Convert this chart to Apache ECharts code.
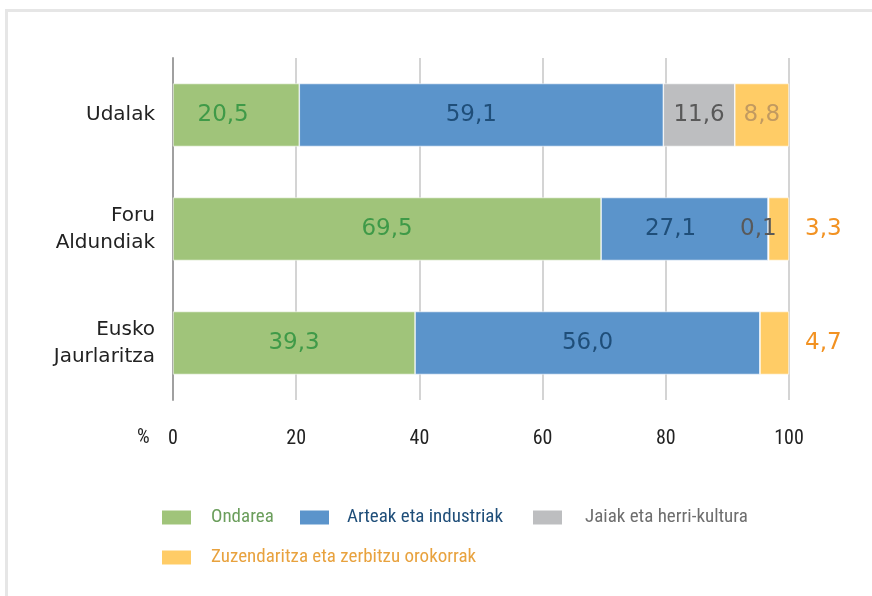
<!DOCTYPE html>
<html>
<head>
<meta charset="utf-8">
<script src="https://cdn.jsdelivr.net/npm/echarts@6/dist/echarts.min.js"></script>
<style>
    html, body { margin: 0; padding: 0; background: #fff; }
    #frame { position: absolute; left: 5px; top: 9px; width: 880px; height: 600px; border: 3px solid #e6e6e6; box-sizing: border-box; }
    #chart { position: absolute; left: 0; top: 0; width: 872px; height: 596px; }
</style>
</head>
<body>
<div id="frame"></div>
<div id="chart"></div>
<script>
const categories = ["Udalak", "Foru\nAldundiak", "Eusko\nJaurlaritza"];
const seriesNames = ["Ondarea", "Arteak eta industriak", "Jaiak eta herri-kultura", "Zuzendaritza eta zerbitzu orokorrak"];
const ondarea = [20.5, 69.5, 39.3];
const arteak = [59.1, 27.1, 56.0];
const jaiak = [11.6, 0.1, 0];
const zuzendaritza = [8.8, 3.3, 4.7];
const xTicks = [0, 20, 40, 60, 80, 100];

const barColors = ["#a0c47a", "#5b94cb", "#bdbec0", "#ffcc66"];
const labelColors = ["#3f9a48", "#1f4e79", "#595959", "#f29222"];
const legendColors = ["#6b9e5c", "#1f4e79", "#6e6e6e", "#e8a23e"];

const labelFont = "'DejaVu Sans', Verdana, sans-serif";
const narrowFont = "'Liberation Sans Narrow', 'Roboto Condensed', 'Liberation Sans', sans-serif";

function fmt(v) {
    return v.toFixed(1).replace(".", ",");
}

function makeSeries(idx, values, labelFor) {
    return {
        name: seriesNames[idx],
        type: "bar",
        stack: "total",
        barWidth: 63,
        itemStyle: { color: barColors[idx], borderColor: "#ffffff", borderWidth: 0.6 },
        emphasis: { disabled: true },
        data: values.map((v, i) => {
            const item = { value: v };
            const lab = labelFor ? labelFor(i, v) : {};
            item.label = Object.assign({
                show: v > 0,
                position: "inside",
                formatter: () => fmt(v),
                color: labelColors[idx],
                fontFamily: labelFont,
                fontSize: 23
            }, lab);
            return item;
        })
    };
}

const series = [
    makeSeries(0, ondarea, i => (i === 0 ? { offset: [-13, 0] } : {})),
    makeSeries(1, arteak, i => (i === 0 ? { offset: [-10, 0] } : i === 1 ? { offset: [-14, 0] } : {})),
    makeSeries(2, jaiak, i => (i === 1 ? { offset: [-10, 0] } : {})),
    makeSeries(3, zuzendaritza, i => (i === 0
        ? { color: "#c29a60" }
        : { position: "right", distance: 16 }))
];

const chart = echarts.init(document.getElementById("chart"));

// legend placement: [left, top, gap between icon and text]
const legendPos = [
    [160, 508, 14],
    [298, 508, 12],
    [531, 508, 17],
    [160, 548, 14]
];

chart.setOption({
    animation: false,
    grid: { left: 173, right: 83, top: 58, bottom: 196, containLabel: false },
    legend: seriesNames.map((n, i) => ({
        data: [n],
        left: legendPos[i][0],
        top: legendPos[i][1],
        padding: 0,
        itemWidth: 31,
        itemHeight: 16,
        itemGap: 0,
        selectedMode: false,
        icon: "rect",
        textStyle: {
            color: legendColors[i],
            fontFamily: narrowFont,
            fontSize: 19,
            padding: [0, 0, 0, legendPos[i][2]]
        }
    })),
    xAxis: {
        type: "value",
        min: 0,
        max: 100,
        interval: 20,
        axisLine: { show: false },
        axisTick: { show: false },
        axisLabel: {
            margin: 29,
            color: "#222",
            fontFamily: narrowFont,
            fontSize: 20,
            formatter: v => (xTicks.includes(v) ? String(v) : "")
        },
        splitLine: { lineStyle: { color: "#d4d4d4", width: 2 } }
    },
    yAxis: {
        type: "category",
        inverse: true,
        data: categories,
        axisLine: { lineStyle: { color: "#a0a0a0", width: 2 } },
        axisTick: { show: false },
        axisLabel: {
            margin: 18,
            color: "#222",
            fontFamily: labelFont,
            fontSize: 20,
            lineHeight: 27,
            align: "right"
        }
    },
    graphic: [{
        type: "text",
        left: 137,
        top: 428,
        style: { text: "%", fill: "#222", font: "20px " + narrowFont }
    }],
    series: series
});
</script>
</body>
</html>
